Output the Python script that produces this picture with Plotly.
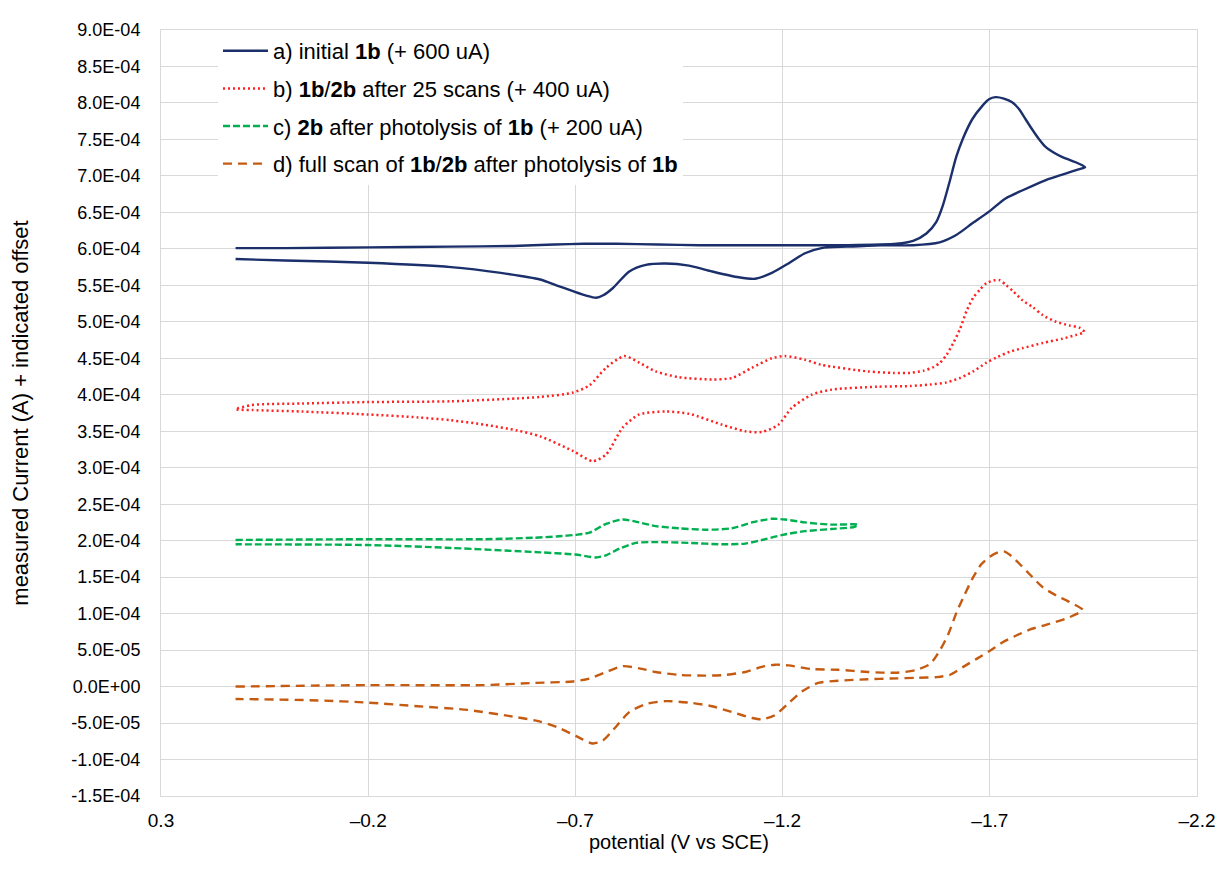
import plotly.graph_objects as go

SCALE = 1e-4  # currents below are listed in units of 1E-04 A (offset already applied)

# a) initial 1b (+600 uA)
a_fwd_v = [0.12, 0.0, -0.2, -0.4, -0.55, -0.65, -0.72, -0.8, -0.9, -1.0, -1.1, -1.2, -1.3, -1.355,
           -1.475, -1.515, -1.547, -1.571, -1.587, -1.603, -1.619, -1.635, -1.658, -1.682, -1.698,
           -1.714, -1.734, -1.754, -1.770, -1.786, -1.802, -1.818, -1.834, -1.854, -1.874, -1.914,
           -1.930]
a_fwd_i = [6.01, 6.01, 6.02, 6.03, 6.04, 6.06, 6.07, 6.07, 6.06, 6.05, 6.05, 6.05, 6.05, 6.05,
           6.07, 6.11, 6.21, 6.37, 6.60, 6.92, 7.26, 7.51, 7.78, 7.96, 8.05,
           8.08, 8.06, 8.01, 7.92, 7.78, 7.64, 7.51, 7.40, 7.32, 7.26, 7.17,
           7.12]
a_rev_v = [-1.914, -1.834, -1.778, -1.738, -1.698, -1.658, -1.619, -1.579, -1.515, -1.435, -1.355,
           -1.294, -1.254, -1.214, -1.174, -1.134, -1.094, -1.030, -0.974, -0.918, -0.870, -0.830,
           -0.790, -0.766, -0.750, -0.726, -0.694, -0.654, -0.615, -0.52, -0.40, -0.2, 0.0, 0.12]
a_rev_i = [7.09, 6.94, 6.80, 6.69, 6.51, 6.35, 6.19, 6.09, 6.05, 6.05, 6.03,
           6.01, 5.94, 5.80, 5.67, 5.59, 5.61, 5.69, 5.77, 5.80, 5.78, 5.69,
           5.46, 5.36, 5.33, 5.36, 5.42, 5.50, 5.58, 5.67, 5.75, 5.81, 5.84, 5.86]

# b) 1b/2b after 25 scans (+400 uA)
b_fwd_v = [0.12, 0.08, -0.04, -0.2, -0.4, -0.56, -0.615, -0.694, -0.734, -0.774, -0.818, -0.854,
           -0.894, -0.950, -1.030, -1.078, -1.126, -1.174, -1.206, -1.254, -1.294, -1.406, -1.468,
           -1.508, -1.540, -1.564, -1.580, -1.596, -1.612, -1.628, -1.644, -1.660, -1.676, -1.692,
           -1.712, -1.724, -1.740, -1.756, -1.780, -1.804, -1.828, -1.860, -1.892, -1.916, -1.928]
b_fwd_i = [3.80, 3.86, 3.88, 3.90, 3.91, 3.95, 3.97, 4.03, 4.13, 4.37, 4.53, 4.44,
           4.32, 4.24, 4.21, 4.23, 4.37, 4.50, 4.53, 4.48, 4.41, 4.32, 4.30,
           4.30, 4.33, 4.38, 4.44, 4.55, 4.71, 4.90, 5.15, 5.33, 5.44, 5.53,
           5.57, 5.57, 5.50, 5.42, 5.29, 5.20, 5.09, 5.00, 4.95, 4.92, 4.86]
b_rev_v = [-1.908, -1.876, -1.828, -1.780, -1.748, -1.716, -1.692, -1.660, -1.628, -1.596, -1.556,
           -1.508, -1.428, -1.318, -1.270, -1.222, -1.190, -1.150, -1.110, -1.054, -0.974, -0.918,
           -0.854, -0.814, -0.774, -0.742, -0.694, -0.615, -0.56, -0.48, -0.40, -0.32, -0.2, -0.04,
           0.08, 0.12]
b_rev_i = [4.82, 4.77, 4.71, 4.64, 4.59, 4.51, 4.44, 4.32, 4.23, 4.17, 4.14,
           4.12, 4.11, 4.07, 4.00, 3.82, 3.59, 3.49, 3.50, 3.59, 3.74, 3.77,
           3.73, 3.55, 3.18, 3.09, 3.23, 3.43, 3.51, 3.59, 3.65, 3.69, 3.73, 3.77,
           3.79, 3.80]

# c) 2b after photolysis of 1b (+200 uA)
c_fwd_v = [0.12, -0.2, -0.48, -0.6, -0.66, -0.70, -0.734, -0.774, -0.814, -0.854, -0.894, -0.950,
           -1.014, -1.078, -1.126, -1.174, -1.206, -1.254, -1.318, -1.382]
c_fwd_i = [2.01, 2.02, 2.02, 2.04, 2.06, 2.08, 2.11, 2.23, 2.29, 2.25, 2.20, 2.17,
           2.15, 2.17, 2.25, 2.30, 2.29, 2.25, 2.22, 2.22]
c_rev_v = [-1.374, -1.318, -1.254, -1.200, -1.158, -1.110, -1.054, -0.974, -0.894, -0.846, -0.806,
           -0.774, -0.750, -0.700, -0.615, -0.40, -0.2, 0.12]
c_rev_i = [2.19, 2.16, 2.13, 2.08, 2.02, 1.96, 1.95, 1.97, 1.98, 1.97, 1.89,
           1.80, 1.77, 1.81, 1.84, 1.90, 1.94, 1.95]

# d) full scan of 1b/2b after photolysis of 1b (no offset)
d_fwd_v = [0.12, -0.2, -0.48, -0.6, -0.694, -0.734, -0.774, -0.814, -0.854, -0.894, -0.950, -1.014,
           -1.062, -1.110, -1.150, -1.182, -1.214, -1.270, -1.334, -1.406, -1.476, -1.524, -1.556,
           -1.580, -1.600, -1.620, -1.640, -1.660, -1.680, -1.700, -1.720, -1.736, -1.752, -1.772,
           -1.796, -1.828, -1.860, -1.892, -1.924]
d_fwd_i = [0.00, 0.02, 0.02, 0.05, 0.07, 0.11, 0.20, 0.28, 0.25, 0.20, 0.16, 0.15,
           0.16, 0.20, 0.27, 0.30, 0.29, 0.24, 0.23, 0.20, 0.19, 0.23, 0.31,
           0.50, 0.72, 1.02, 1.27, 1.50, 1.68, 1.78, 1.84, 1.85, 1.79, 1.68,
           1.54, 1.36, 1.25, 1.16, 1.05]
d_rev_v = [-1.892, -1.844, -1.796, -1.764, -1.732, -1.700, -1.668, -1.636, -1.604, -1.572, -1.524,
           -1.460, -1.406, -1.334, -1.286, -1.246, -1.214, -1.182, -1.150, -1.126, -1.078, -1.030,
           -0.974, -0.918, -0.870, -0.830, -0.798, -0.766, -0.742, -0.702, -0.662, -0.615, -0.558,
           -0.44, -0.32, -0.2, -0.08, 0.12]
d_rev_i = [0.95, 0.86, 0.78, 0.70, 0.61, 0.49, 0.38, 0.27, 0.16, 0.13, 0.12,
           0.11, 0.10, 0.08, 0.05, -0.07, -0.23, -0.39, -0.45, -0.43, -0.35, -0.27,
           -0.22, -0.20, -0.24, -0.35, -0.55, -0.74, -0.78, -0.68, -0.57, -0.48, -0.42,
           -0.32, -0.27, -0.22, -0.19, -0.17]

series_names = [
    "a) initial <b>1b</b> (+ 600 uA)",
    "b) <b>1b</b>/<b>2b</b> after 25 scans (+ 400 uA)",
    "c) <b>2b</b> after photolysis of <b>1b</b> (+ 200 uA)",
    "d) full scan of <b>1b</b>/<b>2b</b> after photolysis of <b>1b</b>",
]

x_tick_vals = [0.3, -0.2, -0.7, -1.2, -1.7, -2.2]
x_tick_text = ["0.3", "\u20130.2", "\u20130.7", "\u20131.2", "\u20131.7", "\u20132.2"]
y_tick_vals = [-1.5e-4, -1.0e-4, -5.0e-5, 0.0, 5.0e-5, 1.0e-4, 1.5e-4, 2.0e-4, 2.5e-4, 3.0e-4,
               3.5e-4, 4.0e-4, 4.5e-4, 5.0e-4, 5.5e-4, 6.0e-4, 6.5e-4, 7.0e-4, 7.5e-4, 8.0e-4,
               8.5e-4, 9.0e-4]
y_tick_text = ["-1.5E-04", "-1.0E-04", "-5.0E-05", "0.0E+00", "5.0E-05", "1.0E-04", "1.5E-04",
               "2.0E-04", "2.5E-04", "3.0E-04", "3.5E-04", "4.0E-04", "4.5E-04", "5.0E-04",
               "5.5E-04", "6.0E-04", "6.5E-04", "7.0E-04", "7.5E-04", "8.0E-04", "8.5E-04",
               "9.0E-04"]

FONT = "Liberation Sans, Arial, Helvetica, sans-serif"

curves = [
    (a_fwd_v, a_fwd_i, a_rev_v, a_rev_i, dict(color="#1B2F6B", width=2.4, dash="solid")),
    (b_fwd_v, b_fwd_i, b_rev_v, b_rev_i, dict(color="#FF2020", width=2.5, dash="2px,3px")),
    (c_fwd_v, c_fwd_i, c_rev_v, c_rev_i, dict(color="#00B050", width=2.4, dash="7px,3px")),
    (d_fwd_v, d_fwd_i, d_rev_v, d_rev_i, dict(color="#C55A11", width=2.4, dash="9px,6px")),
]

fig = go.Figure()
for k, (fv, fi, rv, ri, ln) in enumerate(curves):
    xs = list(fv) + list(rv)
    ys = [v * SCALE for v in list(fi) + list(ri)]
    fig.add_trace(go.Scatter(
        x=xs, y=ys, mode="lines", name=series_names[k],
        line=dict(shape="spline", smoothing=0.7, **ln),
        legendgroup=str(k),
    ))

fig.update_layout(
    width=1219, height=872,
    margin=dict(l=150, r=26, t=22, b=84),
    paper_bgcolor="white", plot_bgcolor="white",
    font=dict(family=FONT, size=17, color="#000000"),
    showlegend=True,
    legend=dict(
        x=0.055, y=1.0, xanchor="left", yanchor="top",
        bgcolor="white", borderwidth=0,
        font=dict(family=FONT, size=22, color="#000000"),
        tracegroupgap=6, itemwidth=45,
    ),
    xaxis=dict(
        range=[0.3, -2.2], tickvals=x_tick_vals, ticktext=x_tick_text,
        showgrid=True, gridcolor="#D9D9D9", gridwidth=1,
        showline=True, linecolor="#D9D9D9", mirror=True,
        zeroline=False, ticks="", ticklabelstandoff=7,
        tickfont=dict(size=19),
        title=dict(text="potential (V vs SCE)", font=dict(size=20), standoff=4),
    ),
    yaxis=dict(
        range=[-1.5e-4, 9.0e-4], tickvals=y_tick_vals, ticktext=y_tick_text,
        showgrid=True, gridcolor="#D9D9D9", gridwidth=1,
        showline=True, linecolor="#D9D9D9", mirror=True,
        zeroline=False, ticks="", ticklabelstandoff=16,
        tickfont=dict(size=18),
        title=dict(text="measured Current (A) + indicated offset", font=dict(size=22), standoff=36),
    ),
)

fig.write_html("out.html")
